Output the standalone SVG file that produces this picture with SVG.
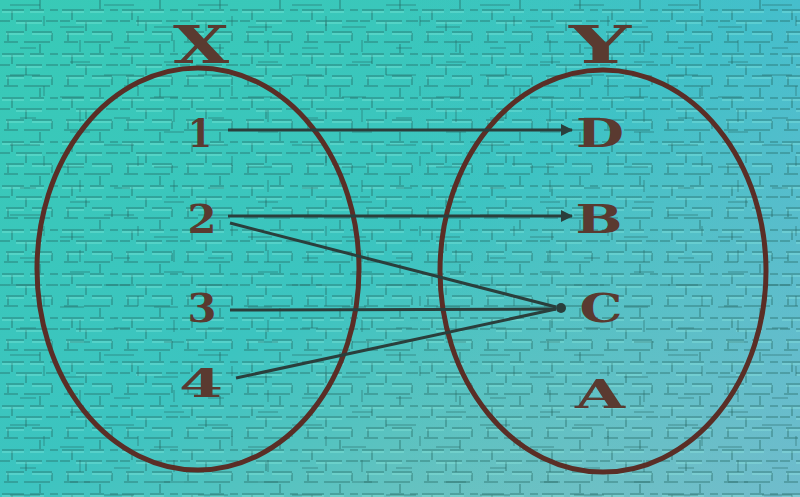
<svg xmlns="http://www.w3.org/2000/svg" width="800" height="497" viewBox="0 0 800 497">
<defs>
<linearGradient id="bg" x1="0" y1="0" x2="1" y2="1">
<stop offset="0" stop-color="#38cab6"/>
<stop offset="0.5" stop-color="#3cc4c0"/>
<stop offset="1" stop-color="#8fc0c0"/>
</linearGradient>
<linearGradient id="bg2" x1="0" y1="0" x2="1" y2="0">
<stop offset="0.5" stop-color="#40c0d0" stop-opacity="0"/>
<stop offset="1" stop-color="#50b8d8" stop-opacity="0.5"/>
</linearGradient>
<pattern id="brick" width="60" height="44" patternUnits="userSpaceOnUse">
<g stroke="#1f5f5a" stroke-width="1.5" opacity="0.45" fill="none">
<path d="M2 10h22M30 10h14M50 10h8M6 32h18M32 32h20M0 21h10M16 21h26M46 21h12M4 42h14M24 42h26"/>
<path d="M12 11v9M40 0v9M26 22v9M52 33v8M8 33v8"/>
</g>
<g stroke="#a8fff0" stroke-width="1" opacity="0.45" fill="none">
<path d="M2 12h22M30 12h14M6 34h18M32 34h20M16 23h26"/>
</g>
</pattern>
<pattern id="brick2" width="94" height="70" patternUnits="userSpaceOnUse">
<g stroke="#1f5f5a" stroke-width="1.5" opacity="0.35" fill="none">
<path d="M10 5h30M60 27h24M20 48h16M70 62h20M44 16v10M80 40v12"/>
</g>
</pattern>
<marker id="ah" markerWidth="12" markerHeight="12" refX="11" refY="6" orient="auto" markerUnits="userSpaceOnUse">
<path d="M0 0L12 6L0 12z" fill="#2a3f3c"/>
</marker>
<style>
.ell{fill:none;stroke:#5a2e26;stroke-width:5}
.lbl{font-family:"DejaVu Serif","Liberation Serif",serif;font-weight:bold;fill:#5a3a30;text-anchor:middle}
.big{font-size:52px}
.sm{font-size:40px}
.arr{stroke:#2a3f3c;stroke-width:3;fill:none}
</style>
</defs>
<rect width="800" height="497" fill="url(#bg)"/>
<rect width="800" height="497" fill="url(#bg2)"/>
<rect width="800" height="497" fill="url(#brick)"/>
<rect width="800" height="497" fill="url(#brick2)"/>
<g id="setX">
<ellipse class="ell" cx="198" cy="269" rx="161" ry="201"/>
<text class="lbl big" x="201" y="63" textLength="56" lengthAdjust="spacingAndGlyphs">X</text>
</g>
<g id="setY">
<ellipse class="ell" cx="603" cy="271" rx="163" ry="201"/>
<text class="lbl big" x="600" y="63" textLength="62" lengthAdjust="spacingAndGlyphs">Y</text>
</g>
<g id="n1"><text class="lbl sm" x="200" y="147" textLength="24" lengthAdjust="spacingAndGlyphs">1</text></g>
<g id="n2"><text class="lbl sm" x="202" y="233" textLength="29" lengthAdjust="spacingAndGlyphs">2</text></g>
<g id="n3"><text class="lbl sm" x="202" y="322" textLength="29" lengthAdjust="spacingAndGlyphs">3</text></g>
<g id="n4"><text class="lbl sm" x="201" y="397" textLength="44" lengthAdjust="spacingAndGlyphs">4</text></g>
<g id="nD"><text class="lbl sm" x="600" y="147" textLength="48" lengthAdjust="spacingAndGlyphs">D</text></g>
<g id="nB"><text class="lbl sm" x="599" y="233" textLength="47" lengthAdjust="spacingAndGlyphs">B</text></g>
<g id="nC"><text class="lbl sm" x="601" y="322" textLength="43" lengthAdjust="spacingAndGlyphs">C</text></g>
<g id="nA"><text class="lbl sm" x="600" y="408" textLength="50" lengthAdjust="spacingAndGlyphs">A</text></g>
<g id="connectors">
<line class="arr" x1="228" y1="130" x2="572" y2="130" marker-end="url(#ah)"/>
<line class="arr" x1="228" y1="216" x2="572" y2="216" marker-end="url(#ah)"/>
<line class="arr" x1="230" y1="223" x2="556" y2="307"/>
<line class="arr" x1="230" y1="310" x2="556" y2="309"/>
<line class="arr" x1="236" y1="378" x2="556" y2="309"/>
<circle cx="561" cy="308" r="5" fill="#2a3f3c"/>
</g>
</svg>
